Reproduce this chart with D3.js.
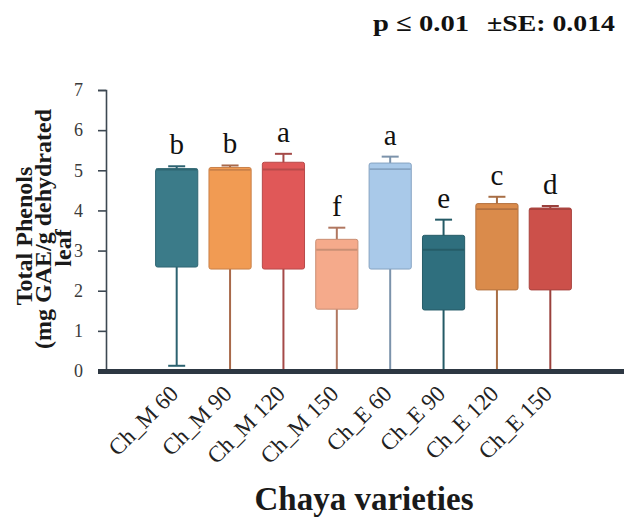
<!DOCTYPE html>
<html>
<head>
<meta charset="utf-8">
<script src="https://cdn.jsdelivr.net/npm/d3@7"></script>
<style>
  html, body { margin: 0; padding: 0; background: #ffffff; }
  svg { display: block; }
</style>
</head>
<body>
<svg id="chart" width="625" height="517"></svg>
<script>
// ---- data ----
const categories = ["Ch_M 60", "Ch_M 90", "Ch_M 120", "Ch_M 150", "Ch_E 60", "Ch_E 90", "Ch_E 120", "Ch_E 150"];
const whiskerLow  = [0.13, 0, 0, 0, 0, 0, 0, 0];
const q1Values    = [2.59, 2.54, 2.54, 1.54, 2.54, 1.52, 2.02, 2.02];
const medianValues= [5.02, 5.01, 5.02, 3.02, 5.03, 3.02, 4.03, 4.03];
const q3Values    = [5.04, 5.07, 5.20, 3.28, 5.18, 3.38, 4.17, 4.06];
const whiskerHigh = [5.10, 5.12, 5.41, 3.57, 5.34, 3.77, 4.34, 4.11];
const letters     = ["b", "b", "a", "f", "a", "e", "c", "d"];
const yTicks      = [0, 1, 2, 3, 4, 5, 6, 7];

const fillColors    = ["#3b7b89", "#f19b53", "#e05858", "#f5aa8b", "#a9c9e9", "#2f6f7e", "#da8b4b", "#cc504a"];
const strokeColors  = ["#2f6672", "#c98048", "#b84a4a", "#c98f74", "#86a3c2", "#265c68", "#b3713f", "#a8433e"];
const whiskerColors = ["#2c6270", "#a8694a", "#a54a48", "#b07760", "#7c93ab", "#245a66", "#a86e45", "#9a403c"];

const svg = d3.select("#chart");
const serif = "'Liberation Serif', 'Times New Roman', serif";

const x = d3.scaleBand().domain(categories).range([150, 577]).paddingInner(0.21).paddingOuter(0.105);
const y = d3.scaleLinear().domain([0, 7]).range([371, 90]);

const rows = categories.map((c, i) => ({
  cat: c, lo: whiskerLow[i], q1: q1Values[i], med: medianValues[i], q3: q3Values[i], hi: whiskerHigh[i],
  letter: letters[i], fill: fillColors[i], stroke: strokeColors[i], wc: whiskerColors[i]
}));

// ---- y axis ----
const yAxis = d3.axisLeft(y).tickValues(yTicks).tickSize(8).tickPadding(15).tickFormat(d3.format("d"));
const gy = svg.append("g").attr("transform", "translate(106,0)").call(yAxis);
gy.select(".domain").attr("stroke", "#3d4852").attr("stroke-width", 1.6);
gy.selectAll(".tick line").attr("stroke", "#3d4852").attr("stroke-width", 1.6);
gy.selectAll(".tick text").attr("font-family", serif).attr("font-size", 18).attr("fill", "#3a3a3a");

// ---- boxes ----
const bw = x.bandwidth();
const capW = 17;
const g = svg.append("g");
rows.forEach(r => {
  const cx = x(r.cat) + bw / 2;
  g.append("line").attr("x1", cx).attr("x2", cx).attr("y1", y(r.hi)).attr("y2", y(r.lo))
    .attr("stroke", r.wc).attr("stroke-width", 2);
  g.append("line").attr("x1", cx - capW / 2).attr("x2", cx + capW / 2).attr("y1", y(r.hi)).attr("y2", y(r.hi))
    .attr("stroke", r.wc).attr("stroke-width", 2);
  if (r.lo > 0) {
    g.append("line").attr("x1", cx - capW / 2).attr("x2", cx + capW / 2).attr("y1", y(r.lo)).attr("y2", y(r.lo))
      .attr("stroke", r.wc).attr("stroke-width", 2);
  }
  g.append("rect").attr("x", x(r.cat)).attr("width", bw)
    .attr("y", y(r.q3)).attr("height", y(r.q1) - y(r.q3))
    .attr("rx", 2).attr("fill", r.fill).attr("stroke", r.stroke).attr("stroke-width", 1);
  g.append("line").attr("x1", x(r.cat) + 0.5).attr("x2", x(r.cat) + bw - 0.5)
    .attr("y1", y(r.med)).attr("y2", y(r.med))
    .attr("stroke", r.stroke).attr("stroke-width", 1.8);
  g.append("text").attr("x", cx).attr("y", y(r.hi) - 12)
    .attr("text-anchor", "middle").attr("font-family", serif).attr("font-size", 29).attr("fill", "#111")
    .text(r.letter);
});

// ---- x axis (thick baseline) ----
svg.append("line").attr("x1", 98).attr("x2", 624).attr("y1", y(0) + 0.5).attr("y2", y(0) + 0.5)
  .attr("stroke", "#2d3742").attr("stroke-width", 5);

svg.append("g").selectAll("text").data(categories).join("text")
  .attr("transform", d => `translate(${x(d) + bw / 2 + 3},395) rotate(-45)`)
  .attr("text-anchor", "end").attr("font-family", serif).attr("font-size", 23).attr("fill", "#222")
  .text(d => d);

// ---- titles ----
svg.append("text").attr("x", 364).attr("y", 510).attr("text-anchor", "middle")
  .attr("font-family", serif).attr("font-weight", "bold").attr("font-size", 33).attr("fill", "#1a1a1a")
  .text("Chaya varieties");

const yTitle = [
  { t: "Total Phenols", bx: 32, cy: 236 },
  { t: "(mg GAE/g dehydrated", bx: 51, cy: 229 },
  { t: "leaf", bx: 71, cy: 248 }
];
svg.append("g").selectAll("text").data(yTitle).join("text")
  .attr("transform", d => `translate(${d.bx},${d.cy}) rotate(-90)`)
  .attr("text-anchor", "middle").attr("font-family", serif).attr("font-weight", "bold")
  .attr("font-size", 24).attr("fill", "#1a1a1a")
  .text(d => d.t);

svg.append("text").attr("x", 373).attr("y", 31)
  .attr("font-family", serif).attr("font-weight", "bold").attr("font-size", 24).attr("fill", "#111")
  .attr("textLength", 96).attr("lengthAdjust", "spacingAndGlyphs")
  .text("p \u2264 0.01");
svg.append("text").attr("x", 487).attr("y", 31)
  .attr("font-family", serif).attr("font-weight", "bold").attr("font-size", 24).attr("fill", "#111")
  .attr("textLength", 128).attr("lengthAdjust", "spacingAndGlyphs")
  .text("\u00b1SE: 0.014");
</script>
</body>
</html>
